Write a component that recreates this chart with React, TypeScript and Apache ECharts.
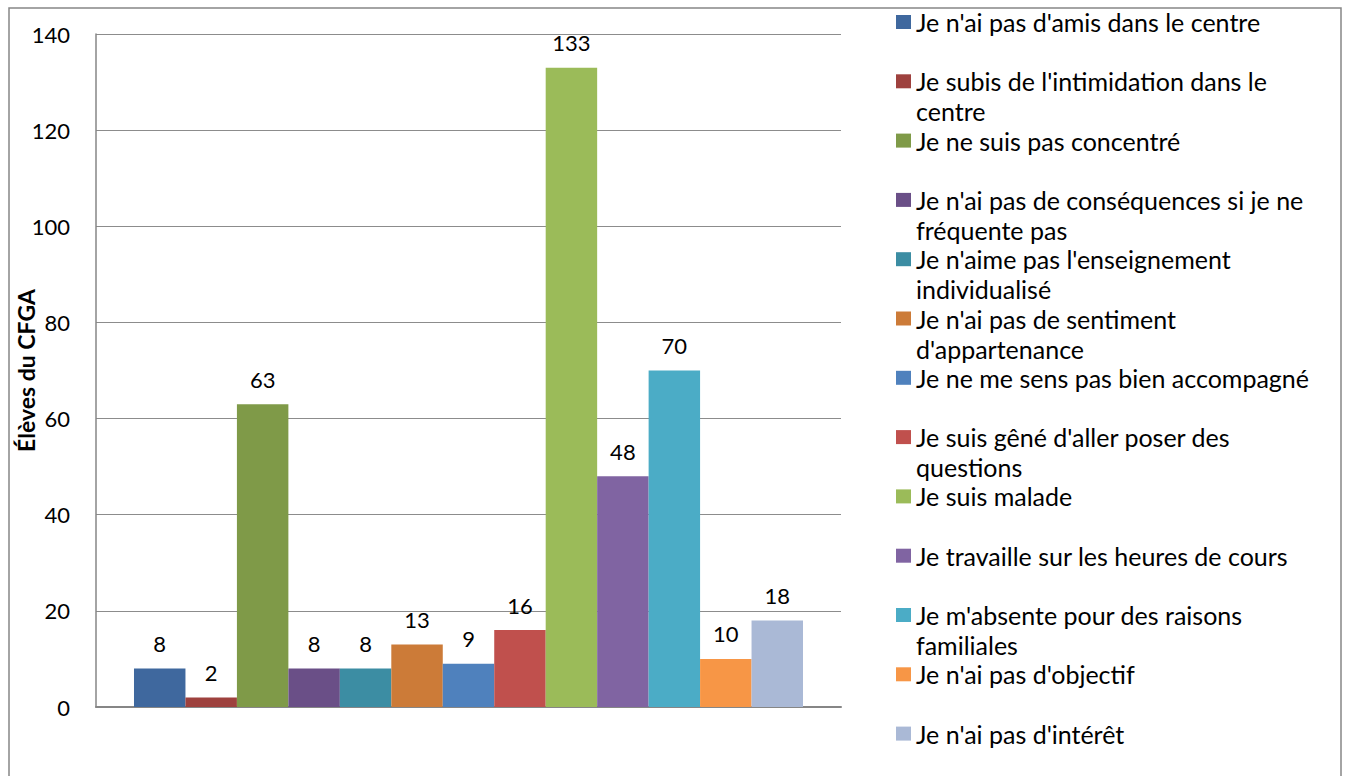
import React, { useEffect, useRef } from "react";
import * as echarts from "echarts";

const seriesNames = [
  "Je n'ai pas d'amis dans le centre",
  "Je subis de l'intimidation dans le centre",
  "Je ne suis pas concentré",
  "Je n'ai pas de conséquences si je ne fréquente pas",
  "Je n'aime pas l'enseignement individualisé",
  "Je n'ai pas de sentiment d'appartenance",
  "Je ne me sens pas bien accompagné",
  "Je suis gêné d'aller poser des questions",
  "Je suis malade",
  "Je travaille sur les heures de cours",
  "Je m'absente pour des raisons familiales",
  "Je n'ai pas d'objectif",
  "Je n'ai pas d'intérêt",
];

// legend text as wrapped in the reference
const legendLines: string[][] = [
  ["Je n'ai pas d'amis dans le centre"],
  ["Je subis de l'intimidation dans le", "centre"],
  ["Je ne suis pas concentré"],
  ["Je n'ai pas de conséquences si je ne", "fréquente pas"],
  ["Je n'aime pas l'enseignement", "individualisé"],
  ["Je n'ai pas de sentiment", "d'appartenance"],
  ["Je ne me sens pas bien accompagné"],
  ["Je suis gêné d'aller poser des", "questions"],
  ["Je suis malade"],
  ["Je travaille sur les heures de cours"],
  ["Je m'absente pour des raisons", "familiales"],
  ["Je n'ai pas d'objectif"],
  ["Je n'ai pas d'intérêt"],
];

const values = [8, 2, 63, 8, 8, 13, 9, 16, 133, 48, 70, 10, 18];

const colors = [
  "#3F689E",
  "#9E413E",
  "#7F9A48",
  "#6A4F87",
  "#3C8DA3",
  "#CC7B38",
  "#4F81BD",
  "#C0504D",
  "#9BBB59",
  "#8064A2",
  "#4BACC6",
  "#F79646",
  "#AAB9D6",
];

const categories = [""];
const yTicks = { min: 0, max: 140, interval: 20 };

const FONT = "Lato";
const LH = 30;

export default function App() {
  const ref = useRef<HTMLDivElement>(null);

  useEffect(() => {
    document.body.style.margin = "0";
    if (!ref.current) return;
    const chart = echarts.init(ref.current, undefined, { renderer: "svg" });

    const legendMap: Record<string, string> = {};
    seriesNames.forEach((n, i) => {
      const l = legendLines[i];
      // three lines per item so that the first line sits level with the swatch
      legendMap[n] = l.length > 1 ? [" ", l[0], l[1]].join("\n") : [" ", l[0], " "].join("\n");
    });

    const option: any = {
      animation: false,
      backgroundColor: "#ffffff",
      textStyle: { fontFamily: FONT },
      graphic: [
        {
          type: "rect",
          shape: { x: 9, y: 8, width: 1332, height: 790 },
          style: { fill: "none", stroke: "#868686", lineWidth: 1.5 },
          silent: true,
          z: -10,
        },
      ],
      grid: {
        left: 96,
        top: 34,
        right: 507,
        bottom: 69,
        containLabel: false,
        outerBoundsMode: "none",
      },
      legend: {
        orient: "vertical",
        left: 896,
        top: -23,
        height: 2000,
        padding: 0,
        itemWidth: 15,
        itemHeight: 14,
        itemGap: -30.7,
        icon: "rect",
        selectedMode: false,
        textStyle: { fontFamily: FONT, fontSize: 25, color: "#000", lineHeight: LH },
        formatter: (name: string) => legendMap[name],
        data: seriesNames,
      },
      xAxis: {
        type: "category",
        data: categories,
        axisTick: { show: false },
        axisLabel: { show: false },
        axisLine: { show: true, lineStyle: { color: "#868686", width: 2 } },
        splitLine: { show: false },
      },
      yAxis: {
        type: "value",
        min: yTicks.min,
        max: yTicks.max,
        interval: yTicks.interval,
        name: "Élèves du CFGA",
        nameLocation: "middle",
        nameGap: 59,
        nameMoveOverlap: false,
        nameTextStyle: { fontFamily: FONT, fontSize: 23, fontWeight: "bold", color: "#000" },
        axisLine: { show: true, lineStyle: { color: "#868686", width: 1.5 } },
        axisTick: { show: false },
        axisLabel: { fontFamily: FONT, fontSize: 22, color: "#000", margin: 26 },
        splitLine: { show: true, lineStyle: { color: "#8C8C8C", width: 1 } },
      },
      series: seriesNames.map((n, i) => ({
        name: n,
        type: "bar",
        data: [values[i]],
        barGap: "0%",
        barCategoryGap: "10.2%",
        itemStyle: { color: colors[i] },
        label: {
          show: true,
          position: "top",
          distance: 14,
          fontFamily: FONT,
          fontSize: 22,
          color: "#000",
        },
      })),
    };

    chart.setOption(option);
    return () => chart.dispose();
  }, []);

  return <div ref={ref} style={{ width: 1348, height: 776 }} />;
}
